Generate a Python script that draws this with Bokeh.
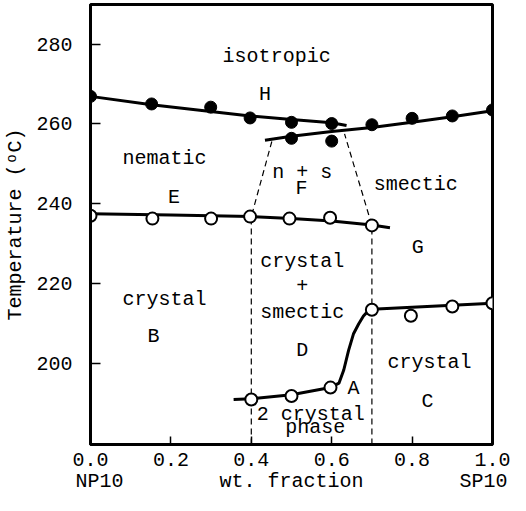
from bokeh.plotting import figure
from bokeh.models import Range1d, FixedTicker, ColumnDataSource, PrintfTickFormatter
from bokeh.core.properties import value
from bokeh.embed import file_html
from bokeh.resources import INLINE

FONT = "Liberation Mono"
FS = "20px"
NB = "\u00a0"

# ---- axis settings ----
X_MIN, X_MAX = 0.0, 1.0
Y_MIN, Y_MAX = 179.75, 289.9
x_ticks = [0.0, 0.2, 0.4, 0.6, 0.8, 1.0]
y_ticks = [200, 220, 240, 260, 280]
x_left_name, x_title, x_right_name = "NP10", "wt. fraction", "SP10"

# ---- measured transition points ----
# isotropic transition (filled circles)
iso_x = [0.0, 0.152, 0.299, 0.397, 0.5, 0.6]
iso_t = [266.9, 265.0, 264.2, 261.5, 260.4, 260.1]
smiso_x = [0.5, 0.6, 0.70, 0.80, 0.90, 1.0]
smiso_t = [256.4, 255.7, 259.8, 261.4, 262.0, 263.5]
# nematic transition (open circles)
ns_x = [0.0, 0.154, 0.30, 0.397, 0.495, 0.596, 0.70]
ns_t = [237.0, 236.3, 236.3, 236.8, 236.3, 236.5, 234.6]
# crystal transition (open circles)
cr_x = [0.40, 0.50, 0.597, 0.70, 0.797, 0.90, 1.0]
cr_t = [191.0, 191.9, 194.0, 213.5, 212.0, 214.3, 215.1]

# ---- drawn boundary curves ----
H_x = [0.0, 0.152, 0.299, 0.397, 0.5, 0.6, 0.637]
H_t = [266.9, 264.8, 263.1, 262.0, 261.1, 260.3, 259.6]
S_x = [0.434, 0.5, 0.6, 0.7, 0.8, 0.9, 1.0]
S_t = [255.9, 256.9, 258.1, 259.1, 260.4, 261.8, 263.3]
E_x = [0.0, 0.2, 0.4, 0.5, 0.6, 0.7, 0.745]
E_t = [237.5, 237.2, 236.8, 236.3, 235.7, 234.7, 234.0]
A_x = [0.356, 0.4, 0.5, 0.597, 0.618, 0.630, 0.642, 0.654, 0.667, 0.679, 0.691, 0.70, 0.8, 0.9, 1.0]
A_t = [191.0, 191.2, 192.2, 194.0, 195.1, 198.4, 203.3, 207.4, 209.9, 211.9, 213.2, 213.6, 214.1, 214.6, 215.1]

# dashed phase boundaries
dashL_x = [0.4, 0.4, 0.451]
dashL_t = [Y_MIN, 236.8, 255.6]
dashR_x = [0.7, 0.7, 0.632]
dashR_t = [Y_MIN, 234.6, 257.5]

# ---- region labels ----
lab_text = ["isotropic", "H", "nematic", "E", "n + s", "F", "smectic", "G",
            "crystal", "+", "smectic", "D", "crystal", "B", "A",
            "2 crystal", "phase", "crystal", "C"]
lab_x = [0.463, 0.434, 0.184, 0.208, 0.527, 0.525, 0.809, 0.814,
         0.527, 0.527, 0.527, 0.527, 0.184, 0.157, 0.654,
         0.548, 0.559, 0.843, 0.838]
lab_t = [277.0, 267.4, 251.4, 241.5, 247.9, 243.9, 244.9, 229.1,
         225.6, 219.5, 212.8, 203.4, 216.0, 206.7, 193.8,
         187.2, 184.0, 200.2, 190.6]

p = figure(width=510, height=495, output_backend="svg", toolbar_location=None,
           x_range=Range1d(X_MIN, X_MAX), y_range=Range1d(Y_MIN, Y_MAX),
           min_border_left=90, min_border_right=18, min_border_top=4, min_border_bottom=0)
p.background_fill_color = "white"
p.border_fill_color = "white"
p.grid.visible = False
p.outline_line_color = "black"
p.outline_line_width = 3
p.outline_line_alpha = 1.0

for ax in (p.xaxis, p.yaxis):
    ax.axis_line_width = 3
    ax.axis_line_color = "black"
    ax.major_tick_out = 0
    ax.major_tick_line_width = 1.5
    ax.minor_tick_line_color = None
    ax.major_label_text_font = FONT
    ax.major_label_text_font_size = FS
    ax.major_label_text_color = "black"
    ax.axis_label_text_font = FONT
    ax.axis_label_text_font_size = FS
    ax.axis_label_text_font_style = "normal"
    ax.axis_label_text_color = "black"

p.xaxis.ticker = FixedTicker(ticks=x_ticks)
p.xaxis.formatter = PrintfTickFormatter(format="%.1f")
p.xaxis.major_tick_in = 8
p.xaxis.major_label_standoff = 8
p.xaxis.axis_label = x_left_name + NB * 8 + x_title + NB * 8 + x_right_name
p.xaxis.axis_label_standoff = 1

p.yaxis.ticker = FixedTicker(ticks=y_ticks)
p.yaxis.major_tick_in = 10
p.yaxis.major_label_standoff = 18
p.yaxis.axis_label = "Temperature (\u1d52C)"
p.yaxis.axis_label_standoff = 6

# dashed boundaries
p.line(dashL_x, dashL_t, line_color="black", line_width=1.2, line_dash="6 4")
p.line(dashR_x, dashR_t, line_color="black", line_width=1.2, line_dash="6 4")

# solid curves
for xs, ts in ((H_x, H_t), (S_x, S_t), (E_x, E_t), (A_x, A_t)):
    p.line(xs, ts, line_color="black", line_width=3)

# markers
p.scatter(iso_x, iso_t, marker="circle", size=12, fill_color="black", line_color="black")
p.scatter(smiso_x, smiso_t, marker="circle", size=12, fill_color="black", line_color="black")
p.scatter(ns_x, ns_t, marker="circle", size=12, fill_color="white", line_color="black", line_width=2)
p.scatter(cr_x, cr_t, marker="circle", size=12, fill_color="white", line_color="black", line_width=2)

src = ColumnDataSource(dict(x=lab_x, y=lab_t, text=lab_text))
p.text(x="x", y="y", text="text", source=src, text_font=value(FONT), text_font_size=value(FS),
       text_align="center", text_baseline="middle", text_color="black")

open("out.html", "w").write(file_html(p, INLINE))
